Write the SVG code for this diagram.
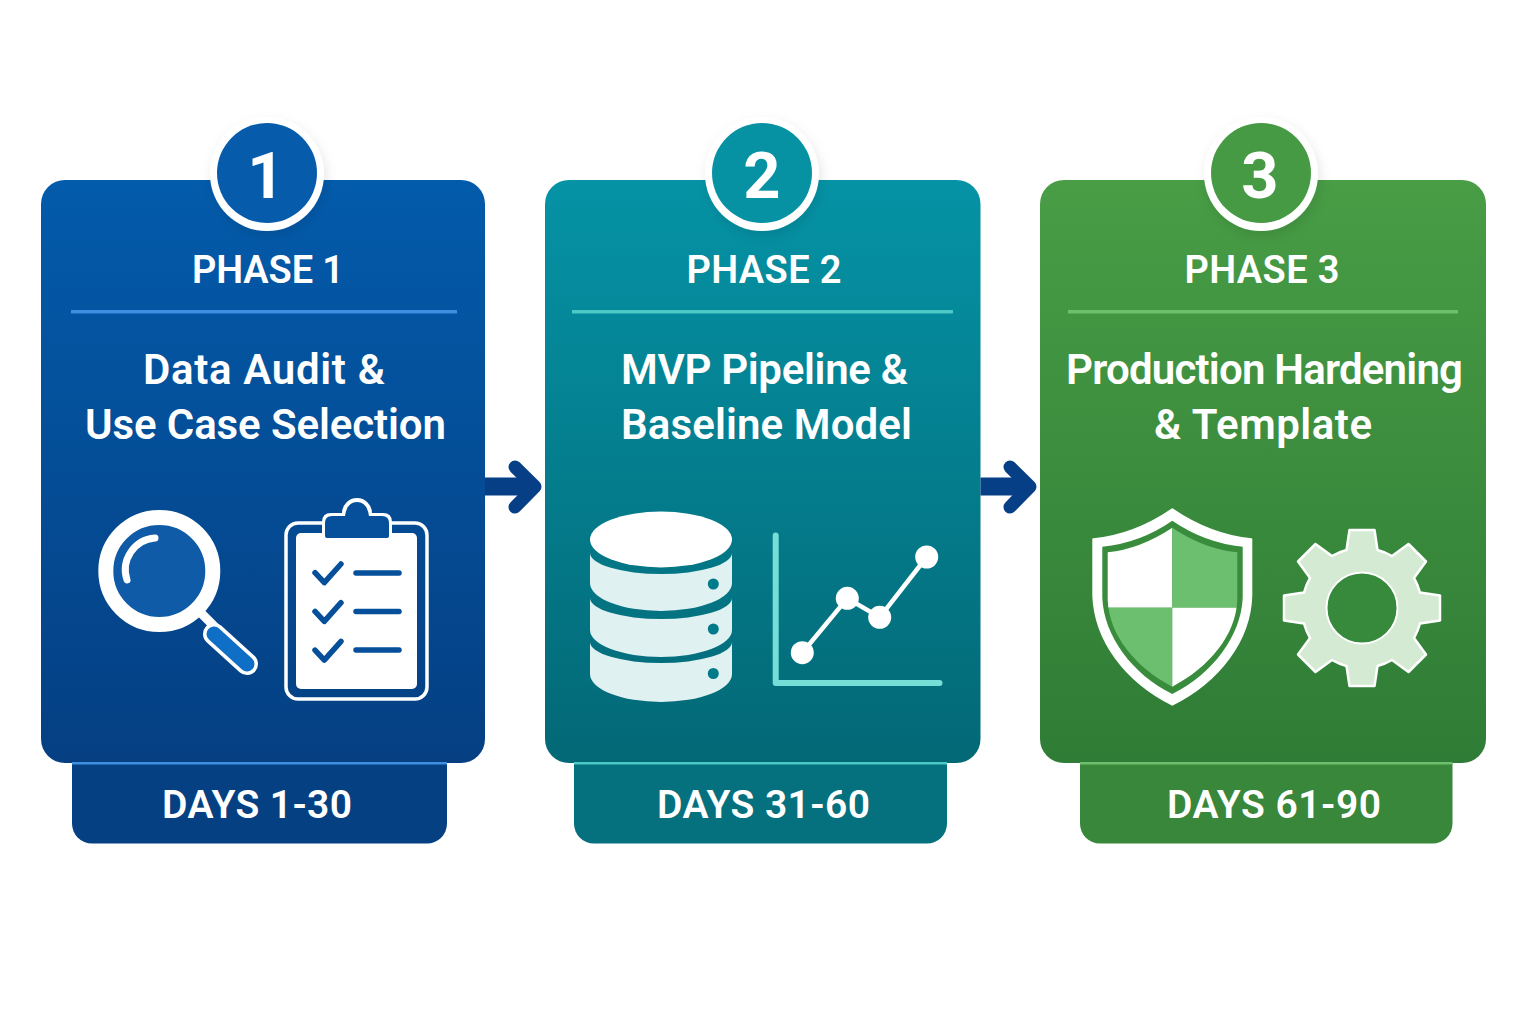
<svg xmlns="http://www.w3.org/2000/svg" width="1536" height="1024" viewBox="0 0 1536 1024">
<defs>
<linearGradient id="g1" x1="0" y1="0" x2="0" y2="1"><stop offset="0" stop-color="#035bab"/><stop offset="1" stop-color="#053f82"/></linearGradient>
<linearGradient id="g2" x1="0" y1="0" x2="0" y2="1"><stop offset="0" stop-color="#0593a5"/><stop offset="1" stop-color="#036876"/></linearGradient>
<linearGradient id="g3" x1="0" y1="0" x2="0" y2="1"><stop offset="0" stop-color="#489d45"/><stop offset="1" stop-color="#2f7c36"/></linearGradient>
<filter id="sh" x="-20%" y="-20%" width="140%" height="150%"><feDropShadow dx="2" dy="5" stdDeviation="6" flood-color="#000" flood-opacity="0.1"/></filter>
<clipPath id="shieldClip"><path d="M1172.3 527.7Q1140 549 1107.7 552.3V600C1109 635 1135 667 1172.3 686.7C1209.6 667 1236 635 1237.3 600V552.3Q1204 549 1172.3 527.7Z"/></clipPath>
</defs>
<style>
text{font-family:"Roboto","Liberation Sans",sans-serif;fill:#fff;text-anchor:middle}
.ph{font-size:38px;font-weight:600}
.ti{font-size:42px;font-weight:600}
.da{font-size:39px;font-weight:600}
.nu{font-size:65px;font-weight:700}
.ring{fill:#fff;filter:url(#sh)}
.arrow{fill:none;stroke:#063f85;stroke-width:13;stroke-linecap:round;stroke-linejoin:round}
</style>
<rect width="1536" height="1024" fill="#fff"/>
<g id="phase-1">
<rect x="72" y="740" width="375" height="103.5" rx="20" fill="#054082"/>
<rect x="41" y="180" width="444" height="583" rx="24" fill="url(#g1)"/>
<rect x="72" y="762" width="375" height="2.5" fill="#3d8fe0"/>
<circle class="ring" cx="267" cy="174" r="57"/>
<circle cx="267" cy="173" r="50" fill="#065cab"/>
<text class="nu" x="266" y="198">1</text>
<text class="ph" x="268" y="283" textLength="152">PHASE 1</text>
<rect x="71" y="310" width="386" height="3.5" fill="#3d8fe0"/>
<text class="ti" x="264" y="384" textLength="242">Data Audit &amp;</text>
<text class="ti" x="265.5" y="439" textLength="361">Use Case Selection</text>
<g id="magnifier">
<path d="M200 612L222 634" stroke="#fff" stroke-width="9" fill="none"/>
<path d="M214 634L247 664" stroke="#fff" stroke-width="22" stroke-linecap="round" fill="none"/>
<path d="M214 634L247 664" stroke="#0f6fc6" stroke-width="15" stroke-linecap="round" fill="none"/>
<circle cx="159.3" cy="571" r="53.5" fill="#0f5ba8" stroke="#fff" stroke-width="15"/>
<path d="M127 580A32 32 0 0 1 155 538" fill="none" stroke="#fff" stroke-width="7" stroke-linecap="round"/>
</g>
<g id="clipboard">
<rect x="286" y="523" width="141" height="176" rx="12" fill="none" stroke="#fff" stroke-width="3.5"/>
<rect x="296" y="533" width="121" height="156" rx="5" fill="#fff"/>
<path d="M322 541V522Q322 513 331 513H342A15 15 0 0 1 372 513H383Q392 513 392 522V541Z" fill="#fff"/>
<path d="M325 536V523Q325 516 332 516H345Q347 502 357 502Q367 502 369 516H382Q389 516 389 523V536Q389 538 386 538H327Q325 538 325 536Z" fill="#054f9b"/>
<g fill="none" stroke="#054f9b" stroke-width="5.5" stroke-linecap="round" stroke-linejoin="round">
<path d="M315 572.7L324.3 582.7L341 564"/><path d="M315 611.4L324.3 621.4L341 602.7"/><path d="M315 650.1L324.3 660.1L341 641.4"/>
<path d="M356 573H399M356 611.5H399M356 650H399"/>
</g>
</g>
</g>
<g id="phase-2">
<rect x="574" y="740" width="373" height="103.5" rx="20" fill="#05707e"/>
<rect x="545" y="180" width="435.5" height="583" rx="24" fill="url(#g2)"/>
<rect x="574" y="762" width="373" height="2.5" fill="#4cc9c6"/>
<circle class="ring" cx="762" cy="174" r="57"/>
<circle cx="762" cy="173" r="50" fill="#0792a4"/>
<text class="nu" x="762" y="198">2</text>
<text class="ph" x="764" y="283" textLength="155">PHASE 2</text>
<rect x="572" y="310" width="381" height="3.5" fill="#4cc9c6"/>
<text class="ti" x="764.5" y="384" textLength="287">MVP Pipeline &amp;</text>
<text class="ti" x="766.5" y="439" textLength="291">Baseline Model</text>
<g id="database">
<g fill="#e0f1f2">
<path d="M590 553A71 21 0 0 0 732 553V583A71 28 0 0 1 590 583Z"/>
<path d="M590 598A71 21 0 0 0 732 598V630A71 27 0 0 1 590 630Z"/>
<path d="M590 642A71 21 0 0 0 732 642V674A71 28 0 0 1 590 674Z"/>
</g>
<ellipse cx="661" cy="539.5" rx="71" ry="28" fill="#fff"/>
<g fill="#017a8a"><circle cx="713.3" cy="584" r="5.5"/><circle cx="713.3" cy="629" r="5.5"/><circle cx="713.3" cy="673.5" r="5.5"/></g>
</g>
<g id="chart">
<path d="M775.7 535.5V683H939.5" fill="none" stroke="#75ded6" stroke-width="6" stroke-linecap="round" stroke-linejoin="round"/>
<path d="M802.3 652.7L847.3 598.3L879.7 617.3L926.7 557" fill="none" stroke="#fff" stroke-width="4.5"/>
<g fill="#fff"><circle cx="802.3" cy="652.7" r="11.5"/><circle cx="847.3" cy="598.3" r="11.5"/><circle cx="879.7" cy="617.3" r="11.5"/><circle cx="926.7" cy="557" r="11.5"/></g>
</g>
</g>
<g id="phase-3">
<rect x="1080" y="740" width="372.5" height="103.5" rx="20" fill="#38873b"/>
<rect x="1040" y="180" width="446" height="583" rx="24" fill="url(#g3)"/>
<rect x="1080" y="762" width="372.5" height="2.5" fill="#6cc06c"/>
<circle class="ring" cx="1261" cy="174" r="57"/>
<circle cx="1261" cy="173" r="50" fill="#469a43"/>
<text class="nu" x="1260" y="198">3</text>
<text class="ph" x="1262" y="283" textLength="155">PHASE 3</text>
<rect x="1068" y="310" width="390" height="3.5" fill="#6cc06c"/>
<text class="ti" x="1264.5" y="384" textLength="397">Production Hardening</text>
<text class="ti" x="1263" y="439" textLength="218">&amp; Template</text>
<g id="shield">
<path d="M1172.3 509.3Q1135 535 1093.3 539.3V596C1095 640 1125 681 1172.3 704.7C1219.6 681 1250 640 1251.3 596V539.3Q1210 535 1172.3 509.3Z" fill="#fff" stroke="#fff" stroke-width="2" stroke-linejoin="round"/>
<path d="M1172.3 520.7Q1140 543 1102.3 546.7V598C1104 636 1132 674 1172.3 694C1212.6 674 1241 636 1242.7 598V546.7Q1205 543 1172.3 520.7Z" fill="#388c3c"/>
<g clip-path="url(#shieldClip)">
<rect x="1100" y="520" width="72.3" height="87.7" fill="#fff"/>
<rect x="1172.3" y="520" width="72" height="87.7" fill="#6cbf6e"/>
<rect x="1100" y="607.7" width="72.3" height="85" fill="#6cbf6e"/>
<rect x="1172.3" y="607.7" width="72" height="85" fill="#fff"/>
</g>
</g>
<g id="gear" transform="translate(1362 608)">
<path d="M-15.5 -58L-12.5 -78H12.5L15.5 -58A60 60 0 0 1 30.05 -51.97L46.5 -64L64 -46.5L51.97 -30.05A60 60 0 0 1 58 -15.5L78 -12.5V12.5L58 15.5A60 60 0 0 1 51.97 30.05L64 46.5L46.5 64L30.05 51.97A60 60 0 0 1 15.5 58L12.5 78H-12.5L-15.5 58A60 60 0 0 1 -30.05 51.97L-46.5 64L-64 46.5L-51.97 30.05A60 60 0 0 1 -58 15.5L-78 12.5V-12.5L-58 -15.5A60 60 0 0 1 -51.97 -30.05L-64 -46.5L-46.5 -64L-30.05 -51.97A60 60 0 0 1 -15.5 -58Z" fill="#d4ead3" stroke="#fff" stroke-width="2.5" stroke-linejoin="round"/>
<circle r="35.5" fill="#37893c" stroke="#fff" stroke-width="2"/>
</g>
</g>
<text class="da" x="257" y="818" textLength="190">DAYS 1-30</text>
<text class="da" x="763.5" y="818" textLength="213">DAYS 31-60</text>
<text class="da" x="1274" y="818" textLength="214">DAYS 61-90</text>
<g id="connectors">
<g id="c1"><rect x="485" y="477.5" width="46" height="18" fill="#063f85"/><path class="arrow" d="M515 467L535 486.7L515 507"/></g>
<g id="c2"><rect x="980.5" y="477.5" width="46" height="18" fill="#063f85"/><path class="arrow" d="M1010 467L1030 486.7L1010 507"/></g>
</g>
</svg>
